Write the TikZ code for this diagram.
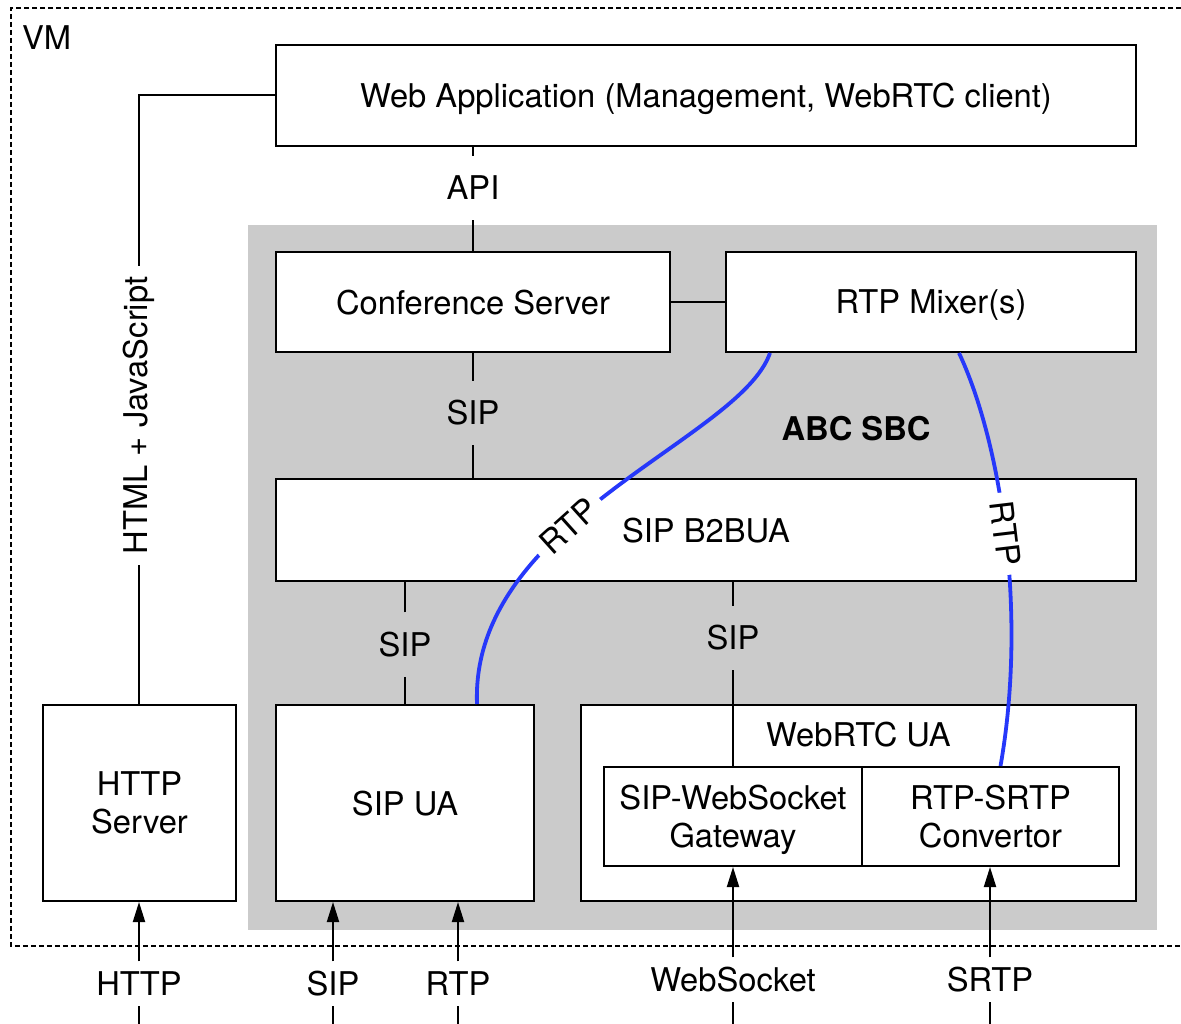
\documentclass[tikz,border=0pt]{standalone}
\usepackage{fontspec}
\setmainfont{TeX Gyre Heros}
\usetikzlibrary{arrows.meta}
\definecolor{rtpblue}{RGB}{38,56,250}
\definecolor{sbcgray}{RGB}{203,203,203}
\begin{document}
\begin{tikzpicture}[x=1pt,y=-1pt,
  font=\fontsize{32.7}{38}\selectfont,
  line width=2pt,
  box/.style={draw, fill=white, line width=2pt, inner sep=0pt, text depth=0pt, align=center},
  lbl/.style={inner xsep=2pt, inner ysep=19.5pt, text height=23.5pt, text depth=0pt},
  botlbl/.style={inner xsep=2pt, inner ysep=9.5pt, text height=23.5pt, text depth=0pt},
  rtp/.style={draw=rtpblue, line width=3.8pt},
  rtplbl/.style={sloped, fill=white, text=black, inner xsep=9pt, inner ysep=3pt, text height=23.5pt, text depth=0pt},
  arr/.style={-{Triangle[length=20pt,width=12pt]}}
]
\useasboundingbox (0,0) rectangle (1181,1024);
% VM frame
\draw[dash pattern=on 5pt off 3pt] (1181,8) -- (11,8) -- (11,946) -- (1181,946);
\node[anchor=base west, inner sep=0pt] (vm) at (21,50) {VM};
% SBC background
\node[fill=sbcgray, minimum width=909pt, minimum height=705pt, inner sep=0pt] (sbc) at (702.5,577.5) {};
\node[font=\fontsize{32.7}{38}\selectfont\bfseries, text depth=0pt] (abc) at (856,428) {ABC SBC};
% boxes
\node[box, minimum width=860pt, minimum height=101pt] (webapp) at (706,95.5) {Web Application (Management, WebRTC client)};
\node[box, minimum width=394pt, minimum height=100pt] (cs) at (473,302) {Conference Server};
\node[box, minimum width=410pt, minimum height=100pt] (mixer) at (931,302) {RTP Mixer(s)};
\node[box, minimum width=860pt, minimum height=102pt] (b2b) at (706,530) {SIP B2BUA};
\node[box, minimum width=258pt, minimum height=196pt] (sipua) at (405,803) {SIP UA};
\node[box, minimum width=555pt, minimum height=196pt] (webrtc) at (858.5,803) {};
\node[text depth=0pt] (webrtclbl) at (858.5,734.5) {WebRTC UA};
\node[box, minimum width=258pt, minimum height=99pt] (sipws) at (733,816.5) {SIP-WebSocket\\Gateway};
\node[box, minimum width=257pt, minimum height=99pt] (srtp) at (990.5,816.5) {RTP-SRTP\\Convertor};
\node[box, minimum width=193pt, minimum height=196pt] (http) at (139.5,803) {HTTP\\Server};
% signalling connectors
\node[lbl] (api) at (473,188) {API};
\draw (api) -- (api |- webapp.south);
\draw (api) -- (cs);
\node[lbl] (sip1) at (473,413) {SIP};
\draw (cs) -- (sip1);
\draw (sip1) -- (sip1 |- b2b.north);
\draw (cs) -- (mixer);
\node[lbl] (sip2) at (405,644.5) {SIP};
\draw (sip2) -- (sip2 |- b2b.south);
\draw (sip2) -- (sipua);
\node[lbl] (sip3) at (733,638) {SIP};
\draw (sip3) -- (sip3 |- b2b.south);
\draw (sip3) -- (sipws);
% HTML + JavaScript
\coordinate (hc) at (139,95.5);
\node[rotate=90, inner xsep=10pt, inner ysep=0pt] (html) at (139,415.5) {HTML + JavaScript};
\draw (webapp.west) -- (hc) -- (html);
\draw (html) -- (html |- http.north);
% RTP media
\draw[rtp] ([xshift=45pt]mixer.south west) .. controls (740,440) and (470,520) .. ([xshift=202pt]sipua.north west)
  node[rtplbl, pos=0.6] (rtpa) {RTP};
\draw[rtp] ([xshift=234pt]mixer.south west) .. controls (1000,440) and (1028,610) .. ([xshift=10pt]srtp.north)
  node[rtplbl, pos=0.5] (rtpb) {RTP};
% external inputs
\coordinate (b1) at (139,1024);
\coordinate (b2) at (333,1024);
\coordinate (b3) at (458,1024);
\coordinate (b4) at (733,1024);
\coordinate (b5) at (990,1024);
\node[botlbl] (hl) at (139,983.5) {HTTP};
\node[botlbl] (sl) at (333,983.5) {SIP};
\node[botlbl] (rl) at (458,983.5) {RTP};
\node[botlbl] (wl) at (733,979.5) {WebSocket};
\node[botlbl] (srl) at (990,979.5) {SRTP};
\draw (b1) -- (hl); \draw[arr] (hl) -- (hl |- http.south);
\draw (b2) -- (sl); \draw[arr] (sl) -- (sl |- sipua.south);
\draw (b3) -- (rl); \draw[arr] (rl) -- (rl |- sipua.south);
\draw (b4) -- (wl); \draw[arr] (wl) -- (wl |- sipws.south);
\draw (b5) -- (srl); \draw[arr] (srl) -- (srl |- srtp.south);
\end{tikzpicture}
\end{document}
